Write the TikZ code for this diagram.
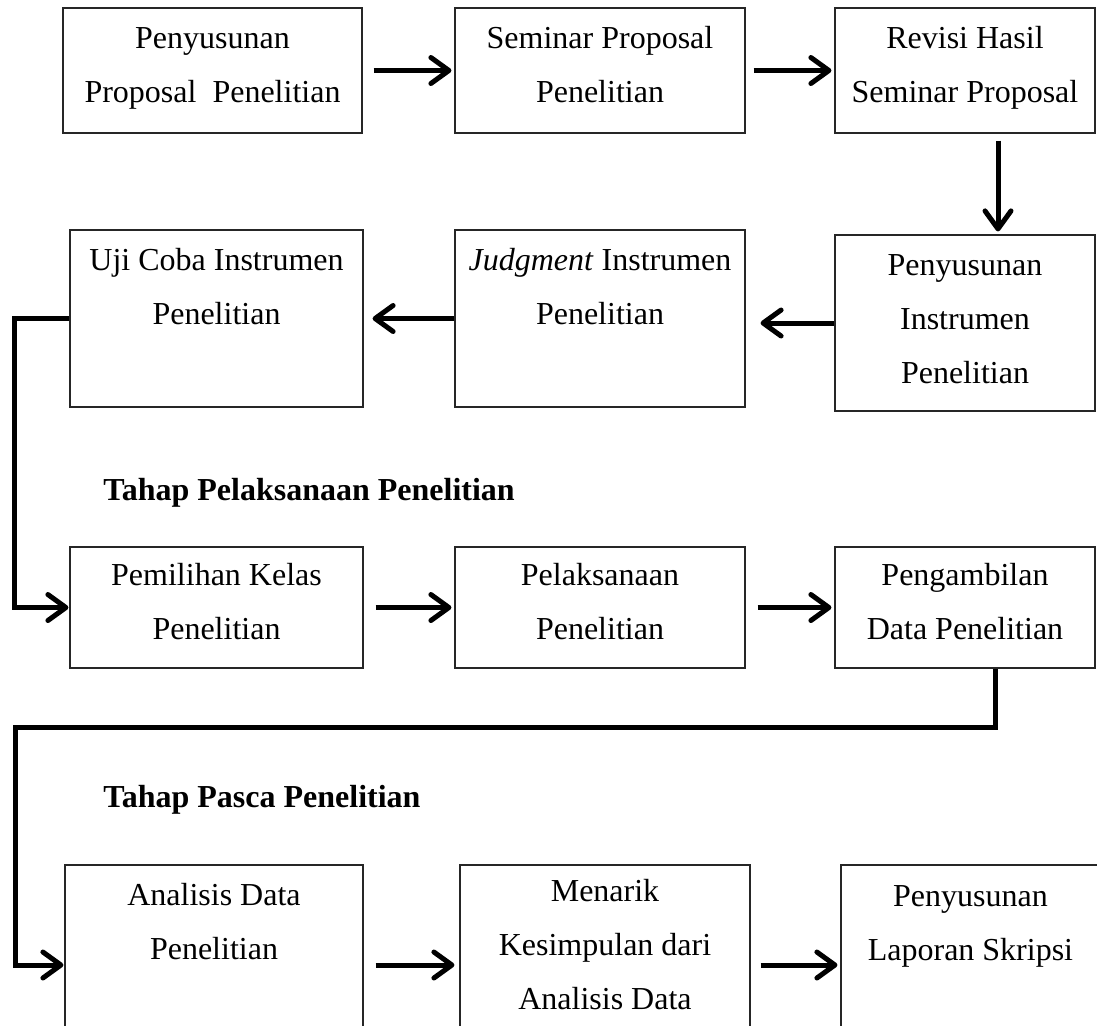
\documentclass[tikz,border=0pt]{standalone}
\usepackage{fontspec}
\setmainfont{Liberation Serif}
\usetikzlibrary{arrows.meta, positioning, calc}

\begin{document}
\begin{tikzpicture}[x=0.5pt, y=-0.5pt,
        stepbox/.style={draw=black!85, line width=0.6pt, inner sep=0pt},
        steptext/.style={font=\fontsize{16}{27}\selectfont, align=center, inner sep=0pt},
        flowarrow/.style={line width=2.5pt, -{Straight Barb[length=9pt, width=13pt, round]}},
        heading/.style={font=\fontsize{16}{18}\selectfont\bfseries, anchor=west, inner sep=0pt}]
    \clip (0,0) rectangle (1097,1025);
    % tahap persiapan
    \node[stepbox, minimum width=149.5pt, minimum height=62.5pt,
        label={[steptext, yshift=1.25pt]center:{Penyusunan\\Proposal\ \ Penelitian}}] (b1) at (212.5,70.5) {};
    \node[stepbox, minimum width=145pt, minimum height=62.5pt,
        label={[steptext, yshift=3pt]center:{Seminar Proposal\\Penelitian}}] (b2) at (600,70.5) {};
    \node[stepbox, minimum width=130pt, minimum height=62.5pt,
        label={[steptext, yshift=1.25pt]center:{Revisi Hasil\\Seminar Proposal}}] (b3) at (965,70.5) {};
    \node[stepbox, minimum width=146.5pt, minimum height=88.5pt,
        label={[steptext, yshift=16pt]center:{Uji Coba Instrumen\\Penelitian}}] (b4) at (216.5,318.5) {};
    \node[stepbox, minimum width=145pt, minimum height=88.5pt,
        label={[steptext, yshift=16pt]center:{\textit{Judgment} Instrumen\\Penelitian}}] (b5) at (600,318.5) {};
    \node[stepbox, minimum width=130pt, minimum height=88pt,
        label={[steptext, yshift=2pt]center:{Penyusunan\\Instrumen\\Penelitian}}] (b6) at (965,323) {};

    % tahap pelaksanaan
    \node[heading] (pelaksanaan) at (103,493) {Tahap Pelaksanaan Penelitian};
    \node[stepbox, minimum width=146.5pt, minimum height=60.5pt,
        label={[steptext, yshift=3pt]center:{Pemilihan Kelas\\Penelitian}}] (b7) at (216.5,607.5) {};
    \node[stepbox, minimum width=145pt, minimum height=60.5pt,
        label={[steptext, yshift=3pt]center:{Pelaksanaan\\Penelitian}}] (b8) at (600,607.5) {};
    \node[stepbox, minimum width=130pt, minimum height=60.5pt,
        label={[steptext, yshift=3pt]center:{Pengambilan\\Data Penelitian}}] (b9) at (965,607.5) {};

    % tahap pasca
    \node[heading] (pasca) at (103,800) {Tahap Pasca Penelitian};
    \node[stepbox, minimum width=149pt, minimum height=100pt,
        label={[steptext, yshift=21.5pt]center:{Analisis Data\\Penelitian}}] (b10) at (214,965) {};
    \node[stepbox, minimum width=145pt, minimum height=100pt,
        label={[steptext, yshift=10pt]center:{Menarik\\Kesimpulan dari\\Analisis Data}}] (b11) at (605,965) {};
    \node[stepbox, minimum width=129.5pt, minimum height=100pt,
        label={[steptext, yshift=19.25pt]center:{Penyusunan\\Laporan Skripsi}}] (b12) at (970.5,965) {};

    % alur
    \draw[flowarrow, shorten <=5.5pt, shorten >=1.5pt] (b1) -- (b2);
    \draw[flowarrow, shorten <=4pt, shorten >=1.5pt] (b2) -- (b3);
    \draw[flowarrow, shorten <=3.5pt, shorten >=1.5pt] ([xshift=16.5pt]b3.south) -- ([xshift=16.5pt]b6.north);
    \draw[flowarrow, shorten >=7.5pt] (b6.west) -- (b6.west -| b5.east);
    \draw[flowarrow, shorten >=4.5pt] (b5.west) -- (b5.west -| b4.east);
    \draw[flowarrow, shorten >=0.5pt] (b4.west) -- ++(-55,0) |- (b7.west);
    \draw[flowarrow, shorten <=6pt, shorten >=1.5pt] (b7) -- (b8);
    \draw[flowarrow, shorten <=6pt, shorten >=1.5pt] (b8) -- (b9);
    \coordinate (bend) at (15,727);
    \draw[flowarrow, shorten >=0.5pt] ([xshift=15pt]b9.south) |- (bend) |- (b10.west);
    \draw[flowarrow, shorten <=6pt, shorten >=2.5pt] (b10) -- (b11);
    \draw[flowarrow, shorten <=5pt, shorten >=1.5pt] (b11) -- (b12);
\end{tikzpicture}
\end{document}
